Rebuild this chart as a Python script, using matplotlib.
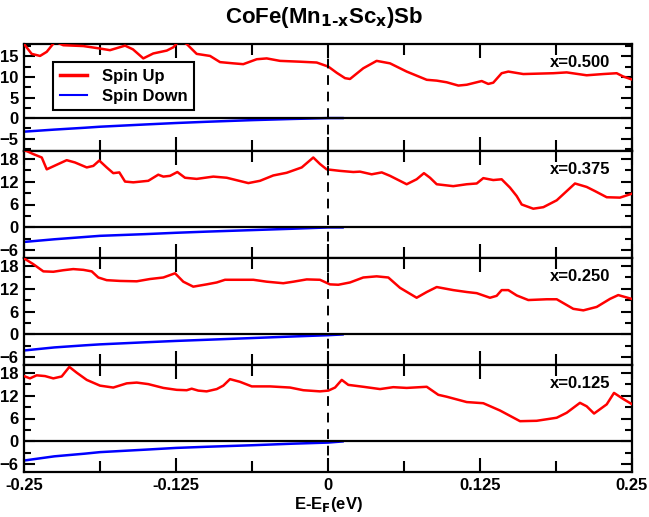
import matplotlib
matplotlib.use("Agg")
import matplotlib.pyplot as plt
from matplotlib.ticker import MultipleLocator

plt.rcParams['font.family'] = ['Liberation Sans', 'DejaVu Sans']
plt.rcParams['font.weight'] = 'bold'

# ---------------- data ----------------
panel_labels = ["x=0.500", "x=0.375", "x=0.250", "x=0.125"]

x_up_500 = [-0.25, -0.2437, -0.2368, -0.2313, -0.2245, -0.2177, -0.2012, -0.1875, -0.1793, -0.1669,
            -0.1604, -0.1519, -0.1437, -0.1326, -0.1272, -0.1217, -0.1162, -0.1080, -0.0970, -0.0888,
            -0.0779, -0.0697, -0.0586, -0.0504, -0.0395, -0.0230, -0.0093, 0.0003, 0.0072, 0.0140,
            0.0181, 0.0290, 0.0400, 0.0510, 0.0647, 0.0812, 0.0894, 0.0976, 0.1072, 0.1141,
            0.1264, 0.1318, 0.1359, 0.1428, 0.1483, 0.1606, 0.1853, 0.1963, 0.2127, 0.2264,
            0.2374, 0.2428, 0.2497]
y_up_500 = [18.0, 15.6, 15.1, 16.1, 18.6, 17.7, 17.5, 16.9, 16.5, 17.6,
            16.7, 14.5, 15.7, 16.4, 17.2, 19.0, 18.0, 15.6, 15.1, 13.6,
            13.3, 13.1, 14.3, 14.5, 13.9, 13.7, 13.5, 12.5, 11.0, 9.7,
            9.5, 12.1, 13.9, 13.3, 11.3, 9.3, 9.1, 8.7, 7.9, 8.1,
            9.0, 8.3, 8.6, 10.9, 11.3, 10.7, 10.9, 11.1, 10.4, 10.7,
            10.9, 10.1, 9.4]

x_up_375 = [-0.25, -0.2424, -0.2354, -0.2313, -0.2231, -0.2149, -0.2081, -0.1984, -0.1930, -0.1881,
            -0.1820, -0.1766, -0.1716, -0.1669, -0.1601, -0.1478, -0.1396, -0.1354, -0.1299, -0.1239,
            -0.1176, -0.1080, -0.0943, -0.0833, -0.0655, -0.0559, -0.0450, -0.0340, -0.0216, -0.0121,
            -0.0066, -0.0011, 0.0099, 0.0208, 0.0263, 0.0359, 0.0442, 0.0510, 0.0647, 0.0729,
            0.0789, 0.0839, 0.0894, 0.1030, 0.1141, 0.1223, 0.1277, 0.1359, 0.1428, 0.1497,
            0.1552, 0.1593, 0.1688, 0.1771, 0.1881, 0.1963, 0.2031, 0.2127, 0.2196, 0.2292,
            0.2401, 0.2497]
y_up_375 = [20.3, 19.2, 18.3, 15.2, 16.4, 17.6, 17.0, 15.7, 16.1, 17.5,
            15.7, 14.2, 14.4, 12.0, 11.8, 12.2, 13.8, 13.3, 13.5, 14.5,
            13.0, 12.7, 13.3, 13.0, 11.6, 12.2, 13.6, 14.3, 15.7, 18.3,
            16.6, 15.2, 14.8, 14.5, 14.6, 13.9, 14.4, 13.5, 11.3, 12.6,
            14.2, 13.0, 11.3, 10.8, 11.3, 11.5, 12.9, 12.4, 12.6, 10.4,
            8.2, 6.0, 4.9, 5.3, 7.1, 9.5, 11.5, 10.6, 9.5, 7.9,
            7.8, 8.8]

x_up_250 = [-0.25, -0.2424, -0.2341, -0.2259, -0.2177, -0.2095, -0.2012, -0.1943, -0.1889, -0.1820,
            -0.1711, -0.1573, -0.1464, -0.1354, -0.1258, -0.1190, -0.1108, -0.0998, -0.0915, -0.0847,
            -0.0614, -0.0504, -0.0368, -0.0285, -0.0175, -0.0066, 0.0016, 0.0085, 0.0181, 0.0290,
            0.0400, 0.0496, 0.0592, 0.0729, 0.0812, 0.0894, 0.1030, 0.1141, 0.1223, 0.1332,
            0.1387, 0.1428, 0.1483, 0.1552, 0.1647, 0.1799, 0.1881, 0.2017, 0.2100, 0.2210,
            0.2319, 0.2387, 0.2497]
y_up_250 = [19.9, 18.4, 16.5, 16.4, 16.8, 17.1, 16.9, 16.5, 14.9, 14.2,
            14.0, 13.9, 14.5, 14.9, 16.0, 13.8, 12.5, 13.1, 13.6, 14.3,
            14.3, 13.8, 13.4, 13.8, 14.4, 14.3, 13.1, 13.0, 13.6, 14.9,
            15.2, 14.9, 12.2, 9.6, 11.1, 12.4, 11.6, 11.1, 10.8, 9.6,
            10.1, 11.6, 11.6, 10.2, 9.0, 9.2, 9.2, 6.7, 6.3, 7.2,
            9.3, 10.3, 9.3]

x_up_125 = [-0.25, -0.2451, -0.2396, -0.2327, -0.2259, -0.2190, -0.2127, -0.2067, -0.1984, -0.1875,
            -0.1766, -0.1655, -0.1573, -0.1478, -0.1354, -0.1244, -0.1162, -0.1121, -0.1067, -0.0998,
            -0.0915, -0.0861, -0.0806, -0.0724, -0.0627, -0.0477, -0.0312, -0.0203, -0.0066, 0.0003,
            0.0058, 0.0113, 0.0167, 0.0290, 0.0428, 0.0537, 0.0647, 0.0812, 0.0907, 0.0976,
            0.1141, 0.1277, 0.1414, 0.1579, 0.1716, 0.1881, 0.1963, 0.2072, 0.2127, 0.2188,
            0.2292, 0.2352, 0.2428, 0.2497]
y_up_125 = [17.1, 16.5, 17.3, 17.1, 16.5, 17.0, 19.5, 18.0, 16.1, 14.6,
            14.1, 15.2, 15.4, 15.0, 14.0, 13.5, 13.4, 13.8, 13.3, 13.1,
            13.7, 14.6, 16.3, 15.6, 14.4, 14.4, 14.1, 13.4, 13.1, 13.3,
            14.1, 16.1, 14.8, 14.3, 13.7, 14.2, 14.0, 14.3, 12.2, 11.7,
            10.3, 10.0, 8.1, 5.3, 5.4, 6.2, 7.5, 10.1, 9.2, 7.3,
            9.7, 12.7, 11.1, 9.8]

x_dn = [-0.25, -0.225, -0.2, -0.1875, -0.15, -0.125, -0.1, -0.0625, -0.03, 0.0, 0.012]
y_dn_500 = [-3.3, -2.8, -2.35, -2.1, -1.55, -1.2, -0.9, -0.5, -0.22, 0.0, 0.0]
y_dn_375 = [-3.8, -3.1, -2.5, -2.2, -1.75, -1.4, -1.1, -0.7, -0.35, 0.0, 0.0]
y_dn_250 = [-4.2, -3.4, -2.85, -2.6, -2.05, -1.7, -1.4, -0.95, -0.55, -0.2, 0.0]
y_dn_125 = [-5.0, -3.9, -3.2, -2.8, -2.15, -1.7, -1.4, -1.0, -0.6, -0.3, 0.0]

x_ticks = [-0.25, -0.125, 0, 0.125, 0.25]
x_ticklabels = ["-0.25", "-0.125", "0", "0.125", "0.25"]

ups = [(x_up_500, y_up_500), (x_up_375, y_up_375), (x_up_250, y_up_250), (x_up_125, y_up_125)]
dns = [y_dn_500, y_dn_375, y_dn_250, y_dn_125]
ylims = [(-8, 18), (-8, 20), (-8, 20), (-8, 20)]
ymajor = [5, 6, 6, 6]
yminor = [2.5, 3, 3, 3]

# ---------------- figure ----------------
fig = plt.figure(figsize=(6.49, 5.17), dpi=100)
left, right = 24 / 649, 632 / 649
top, bottom = 1 - 44 / 517, 1 - 472 / 517
gs = fig.add_gridspec(4, 1, left=left, right=right, top=top, bottom=bottom, hspace=0)

axes = []
for i in range(4):
    ax = fig.add_subplot(gs[i, 0])
    axes.append(ax)
    xu, yu = ups[i]
    ax.plot(xu, yu, color='#ff0000', lw=1.8, label='Spin Up', zorder=3)
    ax.plot(x_dn, dns[i], color='#0000ff', lw=1.8, label='Spin Down', zorder=2)
    ax.axhline(0, color='black', lw=1.6, zorder=4)
    ax.axvline(0, color='black', lw=1.4, ls=(0, (5, 3.5)), zorder=4)
    ax.set_xlim(-0.25, 0.25)
    ax.set_ylim(*ylims[i])
    ax.xaxis.set_major_locator(MultipleLocator(0.125))
    ax.xaxis.set_minor_locator(MultipleLocator(0.0625))
    ax.yaxis.set_major_locator(MultipleLocator(ymajor[i]))
    ax.yaxis.set_minor_locator(MultipleLocator(yminor[i]))
    ax.tick_params(which='both', direction='in', top=True, bottom=True, left=True, right=True,
                   width=1.5, labelsize=12, pad=4)
    ax.tick_params(which='major', axis='x', length=10)
    ax.tick_params(which='minor', axis='x', length=8)
    ax.tick_params(which='major', axis='y', length=8)
    ax.tick_params(which='minor', axis='y', length=5)
    for s in ax.spines.values():
        s.set_linewidth(1.6)
    ax.text(0.964, 0.83, panel_labels[i], transform=ax.transAxes, ha='right', va='center',
            fontsize=12, fontweight='bold')
    if i < 3:
        ax.tick_params(labelbottom=False)
    else:
        ax.set_xticks(x_ticks)
        ax.set_xticklabels(x_ticklabels)
    for lab in ax.get_yticklabels() + ax.get_xticklabels():
        lab.set_fontweight('bold')

leg = axes[0].legend(loc='upper left', bbox_to_anchor=(0.048, 0.832), borderaxespad=0,
                     fontsize=12, frameon=True,
                     fancybox=False, edgecolor='black', framealpha=1, handlelength=1.6,
                     borderpad=0.4, labelspacing=0.3, handletextpad=0.9)
leg.get_frame().set_linewidth(1.5)
for t in leg.get_texts():
    t.set_fontweight('bold')
leg.get_lines()[0].set_linewidth(2.5)
leg.get_lines()[1].set_linewidth(1.5)

fig.text(0.5, 1 - 18 / 517, r"CoFe(Mn$_{\mathbf{1\text{-}x}}$Sc$_{\mathbf{x}}$)Sb", ha='center', va='center',
         fontsize=16, fontweight='bold')
axes[3].set_xlabel(r"E-E$_{\mathbf{F}}$(eV)", fontsize=12, fontweight='bold', labelpad=2)

fig.savefig("out.png", dpi=100)
